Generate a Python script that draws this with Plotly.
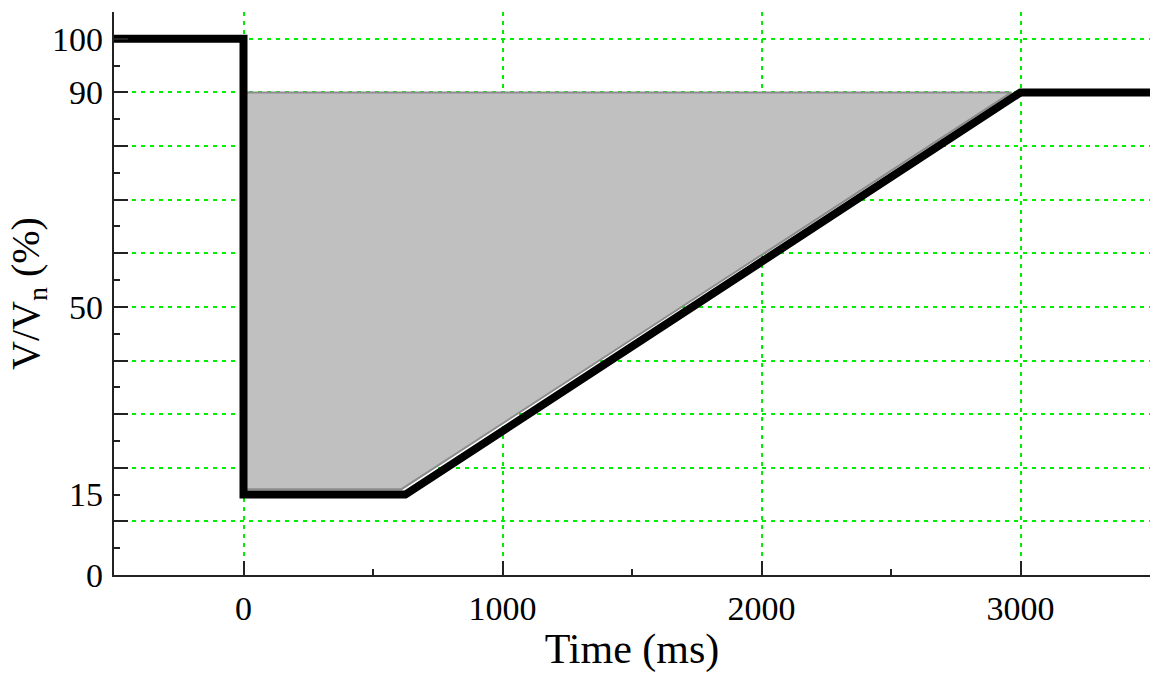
import plotly.graph_objects as go

# Voltage profile (black line)
time_ms = [-500, 0, 0, 625, 3000, 3500]
voltage_pct = [100, 100, 15, 15, 90, 90]

# Shaded region (grey area)
fill_time = [0, 0, 610, 2965, 0]
fill_voltage = [90, 16.0, 16.0, 90, 90]

y_grid_vals = [0, 10, 20, 30, 40, 50, 60, 70, 80, 90, 100]
y_label_vals = [0, 15, 50, 90, 100]
y_label_text = ["0", "15", "50", "90", "100"]
x_tick_vals = [0, 1000, 2000, 3000]
x_tick_text = ["0", "1000", "2000", "3000"]

FONT = "Liberation Serif, Times New Roman, serif"
GRID = "#00ee00"

fig = go.Figure()
fig.add_trace(go.Scatter(x=fill_time, y=fill_voltage, mode="lines", fill="toself",
                         fillcolor="#c0c0c0", line=dict(color="#8c8c8c", width=2),
                         hoverinfo="skip", showlegend=False))
fig.add_trace(go.Scatter(x=time_ms, y=voltage_pct, mode="lines",
                         line=dict(color="black", width=8), showlegend=False))
# invisible trace on second y-axis, which carries the tick labels
fig.add_trace(go.Scatter(x=[-500], y=[15], yaxis="y2", mode="markers",
                         marker=dict(opacity=0), showlegend=False, hoverinfo="skip"))

fig.update_layout(
    width=1150, height=673,
    margin=dict(l=114, r=0, t=12, b=98),
    paper_bgcolor="white", plot_bgcolor="white",
    font=dict(family=FONT, size=34, color="black"),
    xaxis=dict(range=[-500, 3500], tickmode="array", tickvals=x_tick_vals, ticktext=x_tick_text,
               ticks="inside", ticklen=14, tickwidth=1.5, tickcolor="#222",
               showline=True, linecolor="#222", linewidth=2, mirror=False,
               showgrid=True, gridcolor=GRID, gridwidth=2, griddash="4px,5px",
               zeroline=False, ticklabelstandoff=2, automargin=False,
               minor=dict(dtick=500, tick0=0, ticks="inside", ticklen=6, tickcolor="#222", showgrid=False),
               title=dict(text="Time (ms)", font=dict(family=FONT, size=42), standoff=13)),
    yaxis=dict(range=[0, 105], tickmode="array", tickvals=y_grid_vals,
               showticklabels=False,
               ticks="inside", ticklen=14, tickwidth=1.5, tickcolor="#222",
               showline=True, linecolor="#222", linewidth=2,
               showgrid=True, gridcolor=GRID, gridwidth=2, griddash="4px,5px",
               zeroline=False, automargin=False,
               minor=dict(dtick=5, tick0=0, ticks="inside", ticklen=6, tickcolor="#222", showgrid=False)),
    yaxis2=dict(range=[0, 105], overlaying="y", side="left", tickmode="array",
                tickvals=y_label_vals, ticktext=y_label_text, ticks="", showgrid=False, showline=False,
                zeroline=False, ticklabelstandoff=10, automargin=False,
                title=dict(text="V/V<sub>n</sub> (%)", font=dict(family=FONT, size=40), standoff=0)),
)

fig.write_html("out.html", config={"displayModeBar": False},
               post_script="document.body.style.margin='0';document.body.style.overflow='hidden';")
